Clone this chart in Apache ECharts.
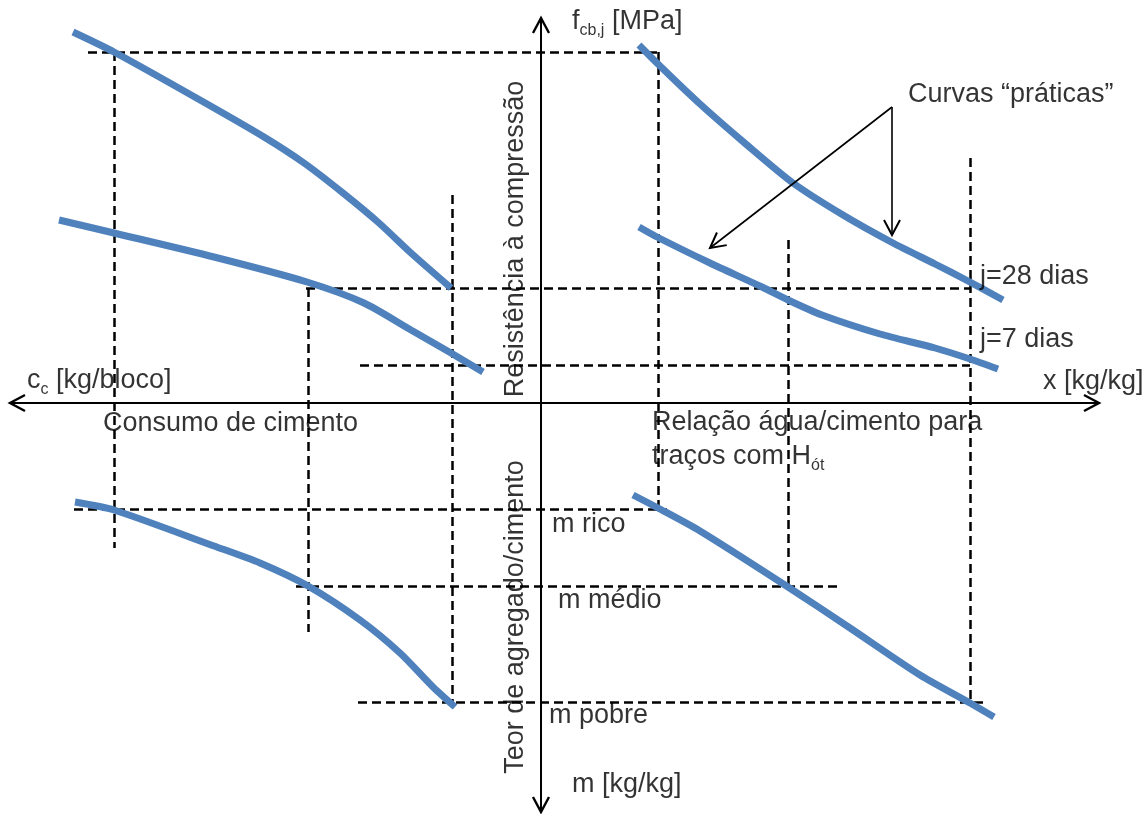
<!DOCTYPE html>
<html><head><meta charset="utf-8">
<script src="https://cdn.jsdelivr.net/npm/echarts@6/dist/echarts.min.js"></script>
<style>html,body{margin:0;padding:0;background:#fff}#c{width:1147px;height:814px}</style>
</head><body><div id="c"></div>
<script>
// Diagram units: origin at the crossing of the two main axes (x right, y up)
const curve28Right = [[98,358],[119,337],[159,299],[206,258],[252,220],[302,188],[352,160],[394,139],[427,122],[462,103]];
const curve7Right  = [[98,176],[116,166],[169,140],[221,116],[247,103],[281,88],[339,69],[394,55],[429,44],[457,34]];
const curve28Left  = [[-468,371],[-427,351],[-341,303],[-277,266],[-237,240],[-198,210],[-162,180],[-130,150],[-90,115]];
const curve7Left   = [[-482,183],[-427,170],[-327,146],[-234,121],[-177,100],[-130,73],[-90,50],[-58,31]];
const curveMLeft   = [[-466,-99],[-427,-107],[-327,-143],[-281,-160],[-233,-183],[-181,-217],[-141,-250],[-108,-284],[-86,-304]];
const curveMRight  = [[92,-92],[117,-105],[159,-128],[247,-184],[309,-225],[379,-272],[429,-300],[453,-314]];

// dashed reading guides [from, to]
const guides = [
  [[-453,351],[117,351]],
  [[-427,351],[-427,-145]],
  [[117,351],[117,-105]],
  [[-235,115],[429,115]],
  [[-233,115],[-233,-229]],
  [[-89,208],[-89,-305]],
  [[-181,38],[429,38]],
  [[429,245],[429,-300]],
  [[247,163],[247,-184]],
  [[-467,-106],[126,-106]],
  [[-245,-183],[300,-183]],
  [[-183,-299],[442,-299]]
];

// arrows: x1, y1, x2, y2, head at start, head at end, width
const mainAxes = [[-531,0,558,0,1,1,2],[0,-409,0,385,1,1,2]];
const callouts = [[351,296,351,168,0,1,1.6],[351,296,169,155,0,1,1.6]];

// text labels: text, anchor [x,y], rotated?
const labelTexts = [
  ['Curvas “práticas”', [367,308], false],
  ['j=28 dias', [439,126], false],
  ['j=7 dias', [439,63], false],
  ['x [kg/kg]', [502,21], false],
  ['{m|f}{s|cb,j}{m| [MPa]}', [31,381], false],
  ['{m|c}{s|c}{m| [kg/bloco]}', [-514,22], false],
  ['Consumo de cimento', [-438,-21], false],
  ['{m|Relação água/cimento para}\n{m|traços com H}{s|ót}', [111,-37], false],
  ['m rico', [11,-122], false],
  ['m médio', [17,-198], false],
  ['m pobre', [8,-313], false],
  ['m [kg/kg]', [31,-382], false],
  ['Resistência à compressão', [-25,164], true],
  ['Teor de agregado/cimento', [-25,-214], true]
];

const FONT = '"Liberation Sans", Arial, sans-serif';
const BLUE = '#4F81BD';
const INK = '#000000';

function renderArrow(params, api) {
  const p1 = api.coord([api.value(0), api.value(1)]);
  const p2 = api.coord([api.value(2), api.value(3)]);
  const hs = api.value(4), he = api.value(5), w = api.value(6);
  const children = [{type:'line', shape:{x1:p1[0],y1:p1[1],x2:p2[0],y2:p2[1]}, style:{stroke:INK, lineWidth:w}}];
  function head(tip, from) {
    const dx = tip[0]-from[0], dy = tip[1]-from[1];
    const L = Math.hypot(dx,dy), ux = dx/L, uy = dy/L;
    const len = 15, half = 8;
    const bx = tip[0]-ux*len, by = tip[1]-uy*len;
    return {type:'polyline', shape:{points:[[bx-uy*half, by+ux*half], tip, [bx+uy*half, by-ux*half]]},
            style:{stroke:INK, lineWidth:w+0.4, fill:null}};
  }
  if (he) children.push(head(p2, p1));
  if (hs) children.push(head(p1, p2));
  return {type:'group', children};
}

function curveSeries(name, data) {
  return {name, type:'line', data, smooth:0.25, showSymbol:false, symbol:'none', silent:true,
          lineStyle:{color:BLUE, width:7, cap:'butt'}, z:3};
}

const chart = echarts.init(document.getElementById('c'), null, {renderer:'canvas'});
chart.setOption({
  animation:false,
  backgroundColor:'#fff',
  grid:{left:0, right:0, top:0, bottom:0},
  xAxis:{type:'value', min:-541, max:606, show:false},
  yAxis:{type:'value', min:-411, max:403, show:false},
  series:[
    {type:'lines', coordinateSystem:'cartesian2d', silent:true, z:2,
     lineStyle:{color:INK, width:2.5, type:[9,5], opacity:1},
     data: guides.map(g => ({coords:g}))},
    curveSeries('28 dias (x)', curve28Right),
    curveSeries('7 dias (x)', curve7Right),
    curveSeries('28 dias (cc)', curve28Left),
    curveSeries('7 dias (cc)', curve7Left),
    curveSeries('m (cc)', curveMLeft),
    curveSeries('m (x)', curveMRight),
    {type:'custom', renderItem:renderArrow, data: mainAxes.concat(callouts), silent:true, z:4,
     encode:{x:[0,2], y:[1,3]}},
    {type:'scatter', symbolSize:0, silent:true, z:5,
     data: labelTexts.map(([t, at, rot]) => ({
       value: at,
       label: rot ? {show:true, position:'inside', rotate:90, formatter:t, fontSize:27, color:INK, fontFamily:FONT}
                  : {show:true, position:'right', distance:0, formatter:t, fontSize:27, color:INK, fontFamily:FONT,
                     lineHeight:32,
                     rich:{m:{fontSize:27, lineHeight:34, fontFamily:FONT, color:INK},
                           s:{fontSize:16, lineHeight:34, verticalAlign:'bottom', fontFamily:FONT, color:INK}}}
     }))}
  ]
});
</script></body></html>
